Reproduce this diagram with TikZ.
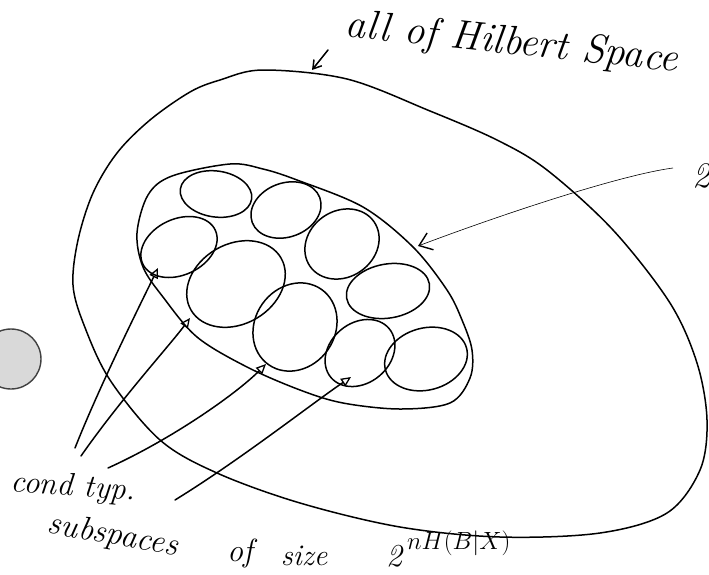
\documentclass[tikz,border=0pt]{standalone}
\usetikzlibrary{arrows.meta}
\begin{document}
\begin{tikzpicture}[x=1pt,y=-1pt,
  ink/.style={line width=1.5pt, line cap=round, line join=round},
  blob/.style={ink, smooth cycle, tension=0.55},
  sub/.style={ink},
  tri/.style={ink, -{Triangle[open, length=10pt, width=9pt, line width=1.3pt]}},
  barb/.style={ink, -{Straight Barb[length=8pt, width=10pt]}},
  thinbarb/.style={line width=0.6pt, -{Straight Barb[length=12pt, width=18pt, line width=1.4pt]}},
  hand/.style={font=\itshape\fontsize{#1}{#1}\selectfont, inner sep=0pt},
  hand/.default=30]
\useasboundingbox (0,0) rectangle (709,574);
% hole punch artifact
\fill[gray!30] (11,359) circle (30pt);
\draw[line width=1.4pt, black!75] (11,359) circle (30pt);
% outer region: all of Hilbert space
\draw[blob] plot coordinates {(263,70) (347,79) (430,111) (497,140) (547,170) (613,230) (670,303) (697,363) (707,420) (700,470) (667,513) (600,533) (500,537) (400,527) (300,503) (217,473) (160,440) (110,380) (84,325) (73,285) (78,240) (93,193) (117,153) (150,120) (190,92) (220,80)};
% inner typical region
\draw[blob] plot coordinates {(230,164) (263,169) (297,180) (363,207) (413,247) (447,290) (462,320) (472,350) (470,378) (450,403) (400,409) (343,403) (300,390) (247,367) (197,337) (163,297) (143,267) (137,233) (148,195) (172,176)};
% conditional typical subspaces
\draw[sub, rotate around={-8:(216,194)}] (216,194) ellipse (36pt and 23pt);
\draw[sub, rotate around={20:(286,210)}] (286,210) ellipse (36pt and 27pt);
\draw[sub, rotate around={25:(179,247)}] (179,247) ellipse (40pt and 28pt);
\draw[sub, rotate around={30:(236,284)}] (236,284) ellipse (52pt and 40pt);
\draw[sub, rotate around={35:(342,244)}] (342,244) ellipse (39pt and 33pt);
\draw[sub, rotate around={10:(388,291)}] (388,291) ellipse (42pt and 27pt);
\draw[sub, rotate around={55:(295,327)}] (295,327) ellipse (46pt and 40pt);
\draw[sub, rotate around={40:(360,353)}] (360,353) ellipse (38pt and 30pt);
\draw[sub, rotate around={15:(426,359)}] (426,359) ellipse (42pt and 31pt);
% labels
\node[hand=41, rotate=-6] (hilbert) at (512,44) {all of Hilbert Space};
\node[hand=36] (two) at (701,176) {2};
\node[hand=32, rotate=-4] (cond) at (73,488) {cond typ.};
\node[hand=33, rotate=-10] (subsp) at (113,536) {subspaces};
\node[hand=32] (of) at (240,553) {of};
\node[hand=30] (size) at (304,556) {size};
\node[hand=32] (pow) at (394,556) {2};
\node[hand=25, anchor=west] (powexp) at (407,543) {$nH(B|X)$};
% arrow targets
\coordinate (hs) at (312,70);
\coordinate (hsStart) at (328,50);
\coordinate (typ) at (418,246);
\coordinate (twoStart) at (673,168);
\coordinate (e1) at (158,268);
\coordinate (e2) at (190,318);
\coordinate (e3) at (266,364);
\coordinate (e4) at (351,377);
\coordinate (s1) at (75,448);
\coordinate (s2) at (81,456);
\coordinate (s3) at (108,468);
\coordinate (s4) at (175,500);
% arrows
\draw[barb] (hsStart) -- (hs);
\draw[thinbarb] (twoStart) .. controls (620,175) and (500,215) .. (typ);
\draw[tri] (s1) .. controls (100,385) and (140,305) .. (e1);
\draw[tri] (s2) .. controls (120,400) and (170,345) .. (e2);
\draw[tri] (s3) .. controls (170,440) and (235,395) .. (e3);
\draw[tri] (s4) .. controls (240,460) and (310,405) .. (e4);
\end{tikzpicture}
\end{document}
